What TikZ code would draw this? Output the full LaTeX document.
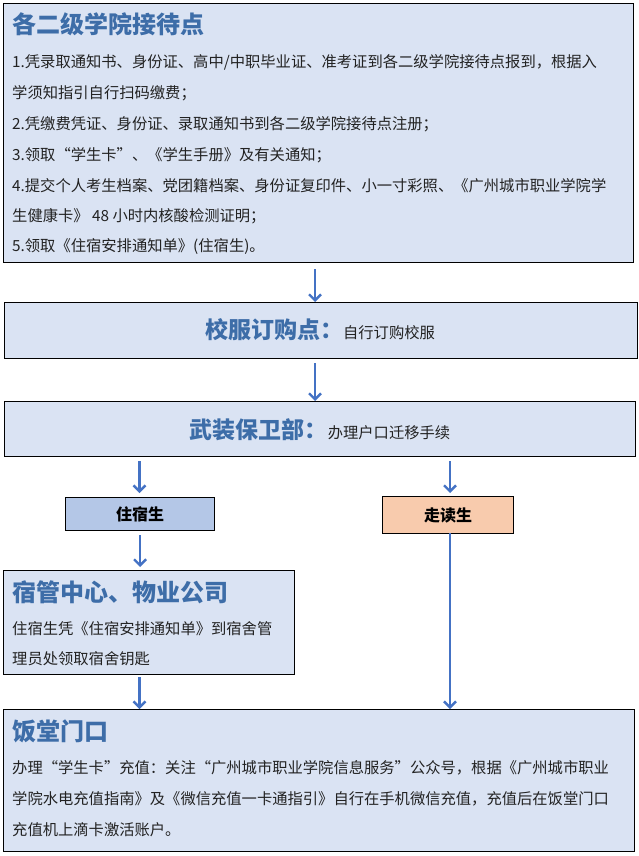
\documentclass[tikz,border=0pt]{standalone}
\usepackage{fontspec}
\setmainfont{Noto Sans CJK SC}
\usetikzlibrary{arrows.meta}
\definecolor{boxfill}{HTML}{DAE3F3}
\definecolor{zsfill}{HTML}{B4C7E7}
\definecolor{zdfill}{HTML}{F8CBAD}
\definecolor{arrowc}{HTML}{4472C4}
\definecolor{titlec}{HTML}{3D6DA8}
\definecolor{textc}{HTML}{222222}
\newcommand\mybodyf{\fontsize{15.3}{18}\selectfont}
\newcommand\myttlf{\fontsize{24}{28}\selectfont\bfseries}
\newcommand\mymidf{\fontsize{23}{26}\selectfont\bfseries}
\begin{document}
\begin{tikzpicture}[x=1pt,y=-1pt,
  box/.style={draw=black, line width=1.3pt, fill=boxfill, anchor=north west, inner sep=0pt},
  smallbox/.style={draw=black, line width=1.2pt, anchor=north west, inner sep=0pt, text=black, font=\fontsize{16}{18}\selectfont\bfseries},
  arr/.style={draw=arrowc, line width=2.4pt, -{Straight Barb[length=6pt,width=12pt]}},
  ttl/.style={anchor=west, inner sep=0pt, text=titlec, font=\myttlf, text height=21.1pt, text depth=2.9pt},
  body/.style={anchor=west, inner sep=0pt, text=textc, font=\mybodyf, text height=13.5pt, text depth=1.8pt},
  mid/.style={anchor=center, inner sep=0pt},
]
\fill[white] (0,0) rectangle (639,856);
\useasboundingbox (0,0) rectangle (639,856);

% boxes
\node[box, minimum width=630pt, minimum height=259pt] (b1) at (3,3) {};
\node[box, minimum width=633pt, minimum height=56pt] (b2) at (4,302) {};
\node[box, minimum width=631pt, minimum height=55pt] (b3) at (4,401) {};
\node[smallbox, fill=zsfill, minimum width=149pt, minimum height=33pt] (zs) at (65,497) {住宿生};
\node[smallbox, fill=zdfill, minimum width=131pt, minimum height=37pt] (zd) at (382,496) {走读生};
\node[box, minimum width=291pt, minimum height=104pt] (b4) at (3,570) {};
\node[box, minimum width=631pt, minimum height=142pt] (b5) at (3,709) {};

% top box text
\node[ttl] (t1) at (12,24) {各二级学院接待点};
\node[body] (t1a) at (12,62) {1.凭录取通知书、身份证、高中/中职毕业证、准考证到各二级学院接待点报到，根据入};
\node[body] (t1b) at (12,93) {学须知指引自行扫码缴费；};
\node[body] (t1c) at (12,124) {2.凭缴费凭证、身份证、录取通知书到各二级学院接待点注册；};
\node[body] (t1d) at (12,155) {3.领取“学生卡”、《学生手册》及有关通知；};
\node[body] (t1e) at (12,186) {4.提交个人考生档案、党团籍档案、身份证复印件、小一寸彩照、《广州城市职业学院学};
\node[body] (t1f) at (12,216) {生健康卡》 48 小时内核酸检测证明；};
\node[body] (t1g) at (12,246) {5.领取《住宿安排通知单》(住宿生)。};

% middle boxes text
\node[mid] (t2) at (320,330) {\textcolor{titlec}{\mymidf 校服订购点：}\textcolor{textc}{\mybodyf 自行订购校服}};
\node[mid] (t3) at (320,430) {\textcolor{titlec}{\mymidf 武装保卫部：}\textcolor{textc}{\mybodyf 办理户口迁移手续}};

% dorm box text
\node[ttl] (t4) at (12,592) {宿管中心、物业公司};
\node[body] (t4a) at (12,629) {住宿生凭《住宿安排通知单》到宿舍管};
\node[body] (t4b) at (12,659) {理员处领取宿舍钥匙};

% canteen box text
\node[ttl] (t5) at (12,731) {饭堂门口};
\node[body] (t5a) at (12,768) {办理“学生卡”充值：关注“广州城市职业学院信息服务”公众号，根据《广州城市职业};
\node[body] (t5b) at (12,799) {学院水电充值指南》及《微信充值一卡通指引》自行在手机微信充值，充值后在饭堂门口};
\node[body] (t5c) at (12,830) {充值机上滴卡激活账户。};

% connectors
\coordinate (a1) at (315,269);
\draw[arr] (a1) -- (a1 |- b2.north);
\coordinate (a2) at (315,363);
\draw[arr] (a2) -- (a2 |- b3.north);
\coordinate (a3) at (139.5,461);
\draw[arr] (a3) -- ([yshift=4pt]a3 |- zs.north);
\coordinate (a4) at (450,461);
\draw[arr] (a4) -- ([yshift=3pt]a4 |- zd.north);
\draw[arr] ([yshift=-4pt]zs.south) -- ([yshift=3pt]zs.south |- b4.north);
\coordinate (a5) at (139.5,677);
\draw[arr] (a5) -- (a5 |- b5.north);
\coordinate (a6) at (450,533);
\draw[arr] (a6) -- (a6 |- b5.north);
\end{tikzpicture}
\end{document}
